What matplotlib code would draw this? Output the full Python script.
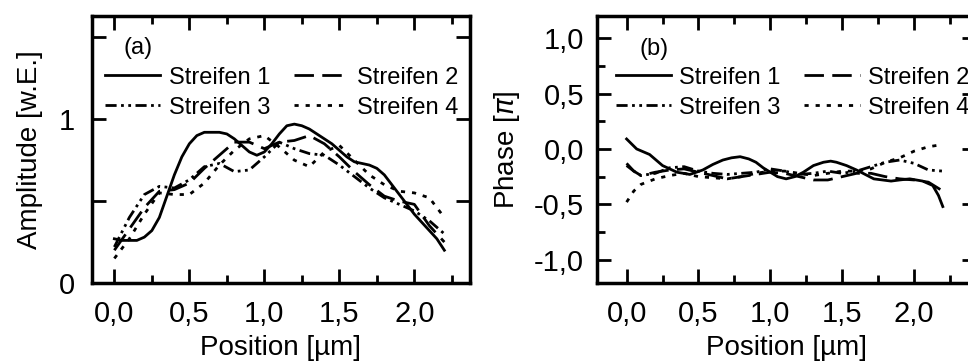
import numpy as np
import matplotlib
matplotlib.use("Agg")
import matplotlib.pyplot as plt
from matplotlib.ticker import MultipleLocator, FixedLocator, FuncFormatter

plt.rcParams['font.family'] = ['Liberation Sans', 'DejaVu Sans']
plt.rcParams['mathtext.fontset'] = 'dejavusans'

# ---- data ----------------------------------------------------------------
labels = ["Streifen 1", "Streifen 2", "Streifen 3", "Streifen 4"]

# amplitude, stripe 1 (fine sampling)
x_amp1 = [0.00, 0.05, 0.10, 0.15, 0.20, 0.25, 0.30, 0.35, 0.40, 0.45, 0.50,
          0.55, 0.60, 0.65, 0.70, 0.75, 0.80, 0.85, 0.90, 0.95, 1.00, 1.05,
          1.10, 1.15, 1.20, 1.25, 1.30, 1.35, 1.40, 1.45, 1.50, 1.55, 1.60,
          1.65, 1.70, 1.75, 1.80, 1.85, 1.90, 1.95, 2.00, 2.05, 2.10, 2.15, 2.20]
amp1 = [0.27, 0.26, 0.26, 0.26, 0.28, 0.32, 0.40, 0.53, 0.66, 0.77, 0.85,
        0.90, 0.92, 0.92, 0.92, 0.91, 0.88, 0.84, 0.80, 0.78, 0.80, 0.85,
        0.91, 0.96, 0.97, 0.96, 0.94, 0.91, 0.88, 0.85, 0.81, 0.77, 0.74,
        0.73, 0.72, 0.70, 0.66, 0.60, 0.54, 0.48, 0.42, 0.37, 0.32, 0.27, 0.20]

x_amp = [0.0, 0.1, 0.2, 0.3, 0.4, 0.5, 0.6, 0.7, 0.8, 0.9, 1.0, 1.1,
         1.2, 1.3, 1.4, 1.5, 1.6, 1.7, 1.8, 1.9, 2.0, 2.1, 2.2]
amp2 = [0.20, 0.33, 0.46, 0.56, 0.57, 0.61, 0.70, 0.78, 0.86, 0.86, 0.82, 0.86,
        0.87, 0.90, 0.85, 0.77, 0.68, 0.60, 0.53, 0.50, 0.48, 0.35, 0.25]
amp3 = [0.22, 0.40, 0.54, 0.59, 0.58, 0.63, 0.71, 0.73, 0.68, 0.69, 0.77, 0.86,
        0.82, 0.79, 0.78, 0.72, 0.65, 0.58, 0.52, 0.48, 0.44, 0.38, 0.30]
amp4 = [0.15, 0.27, 0.42, 0.55, 0.54, 0.54, 0.61, 0.72, 0.81, 0.88, 0.90, 0.83,
        0.75, 0.71, 0.80, 0.84, 0.75, 0.66, 0.60, 0.56, 0.55, 0.52, 0.40]

# phase (units of pi), stripe 1 (fine sampling)
x_ph1 = [0.00, 0.07, 0.16, 0.25, 0.35, 0.44, 0.53, 0.60, 0.67, 0.73, 0.79,
         0.85, 0.90, 0.95, 1.00, 1.05, 1.11, 1.17, 1.23, 1.30, 1.37, 1.42,
         1.46, 1.53, 1.60, 1.66, 1.72, 1.78, 1.84, 1.90, 1.97, 2.06, 2.13,
         2.17, 2.20]
ph1 = [0.09, 0.00, -0.05, -0.15, -0.21, -0.23, -0.19, -0.14, -0.10, -0.08, -0.07,
       -0.09, -0.12, -0.17, -0.21, -0.25, -0.27, -0.25, -0.21, -0.15, -0.12, -0.11,
       -0.12, -0.15, -0.19, -0.23, -0.27, -0.28, -0.29, -0.28, -0.27, -0.29, -0.33,
       -0.42, -0.52]

x_ph = [0.0, 0.05, 0.1, 0.2, 0.3, 0.4, 0.5, 0.6, 0.7, 0.8, 0.9, 1.0, 1.1,
        1.2, 1.3, 1.4, 1.5, 1.6, 1.7, 1.8, 1.9, 2.0, 2.1, 2.2]
ph2 = [-0.13, -0.20, -0.24, -0.21, -0.19, -0.18, -0.21, -0.24, -0.27, -0.25, -0.23,
       -0.21, -0.22, -0.25, -0.28, -0.28, -0.25, -0.22, -0.22, -0.25, -0.27, -0.28,
       -0.30, -0.38]
ph3 = [-0.15, -0.20, -0.24, -0.22, -0.17, -0.16, -0.20, -0.22, -0.23, -0.22, -0.21,
       -0.18, -0.20, -0.23, -0.22, -0.20, -0.22, -0.20, -0.16, -0.12, -0.10, -0.13,
       -0.19, -0.20]
ph4 = [-0.48, -0.38, -0.32, -0.27, -0.24, -0.22, -0.25, -0.26, -0.27, -0.25, -0.22,
       -0.20, -0.20, -0.22, -0.24, -0.22, -0.20, -0.20, -0.18, -0.12, -0.08, -0.02,
       0.02, 0.04]

# ---- styles --------------------------------------------------------------
LW = 2.0
styles = [
    dict(linestyle='-'),
    dict(linestyle=(0, (7, 3))),
    dict(linestyle=(0, (4, 1.6, 1, 1.6, 1, 1.6))),
    dict(linestyle=(0, (1.5, 2.5))),
]

fig = plt.figure(figsize=(9.68, 3.61), dpi=100)
W, H = 968.0, 361.0


def make_axes(l, r, t, b):
    return fig.add_axes([l / W, 1 - b / H, (r - l) / W, (b - t) / H])


def comma(v, p):
    return f"{v:.1f}".replace('.', ',')


def style_axes(ax):
    for s in ax.spines.values():
        s.set_linewidth(2.5)
    ax.tick_params(which='both', direction='in', top=True, right=True,
                   width=2.0, labelsize=21, color='black')
    ax.tick_params(which='major', length=10)
    ax.tick_params(which='minor', length=6)
    ax.tick_params(axis='x', pad=12)
    ax.xaxis.set_major_locator(MultipleLocator(0.5))
    ax.xaxis.set_minor_locator(MultipleLocator(0.25))
    ax.xaxis.set_major_formatter(FuncFormatter(comma))


def add_legend(ax, anchor):
    # row-wise order: 1 2 / 3 4
    h, l = ax.get_legend_handles_labels()
    order = [0, 2, 1, 3]
    ax.legend([h[i] for i in order], [l[i] for i in order],
              loc='upper left', bbox_to_anchor=anchor, ncol=2, frameon=False,
              fontsize=17, handlelength=2.35, handletextpad=0.35,
              columnspacing=1.0, labelspacing=0.33, borderpad=0,
              borderaxespad=0)


# ---- (a) amplitude -------------------------------------------------------
ax1 = make_axes(92, 470, 16, 283)
amp_x = [x_amp1, x_amp, x_amp, x_amp]
amp_y = [amp1, amp2, amp3, amp4]
for xs, ys, lab, st in zip(amp_x, amp_y, labels, styles):
    ax1.plot(xs, ys, color='black', lw=LW, label=lab, **st)
ax1.set_xlim(-0.149, 2.371)
ax1.set_ylim(0, 1.63)
style_axes(ax1)
ax1.tick_params(axis='y', pad=12)
ax1.yaxis.set_major_locator(FixedLocator([0, 0.5, 1.0, 1.5]))
ax1.yaxis.set_major_formatter(FuncFormatter(lambda v, p: {0.0: "0", 1.0: "1"}.get(round(v, 2), "")))
ax1.set_xlabel("Position [µm]", fontsize=20, labelpad=5)
ax1.set_ylabel("Amplitude [w.E.]", fontsize=20, labelpad=12)
ax1.text(0.083, 0.88, "(a)", transform=ax1.transAxes, fontsize=17,
         ha='left', va='center')
add_legend(ax1, (0.034, 0.81))

# ---- (b) phase -----------------------------------------------------------
ax2 = make_axes(596.7, 976, 16, 283)
ph_x = [x_ph1, x_ph, x_ph, x_ph]
ph_y = [ph1, ph2, ph3, ph4]
for xs, ys, lab, st in zip(ph_x, ph_y, labels, styles):
    ax2.plot(xs, ys, color='black', lw=LW, label=lab, **st)
ax2.set_xlim(-0.208, 2.431)
ax2.set_ylim(-1.21, 1.2)
style_axes(ax2)
ax2.tick_params(axis='y', pad=9)
ax2.yaxis.set_major_locator(MultipleLocator(0.5))
ax2.yaxis.set_minor_locator(MultipleLocator(0.25))
ax2.yaxis.set_major_formatter(FuncFormatter(comma))
ax2.set_xlabel("Position [µm]", fontsize=20, labelpad=5)
ax2.set_ylabel(r"Phase [$\pi$]", fontsize=20, labelpad=9)
ax2.text(0.113, 0.875, "(b)", transform=ax2.transAxes, fontsize=17,
         ha='left', va='center')
add_legend(ax2, (0.05, 0.81))

fig.savefig("out.png", dpi=100)
